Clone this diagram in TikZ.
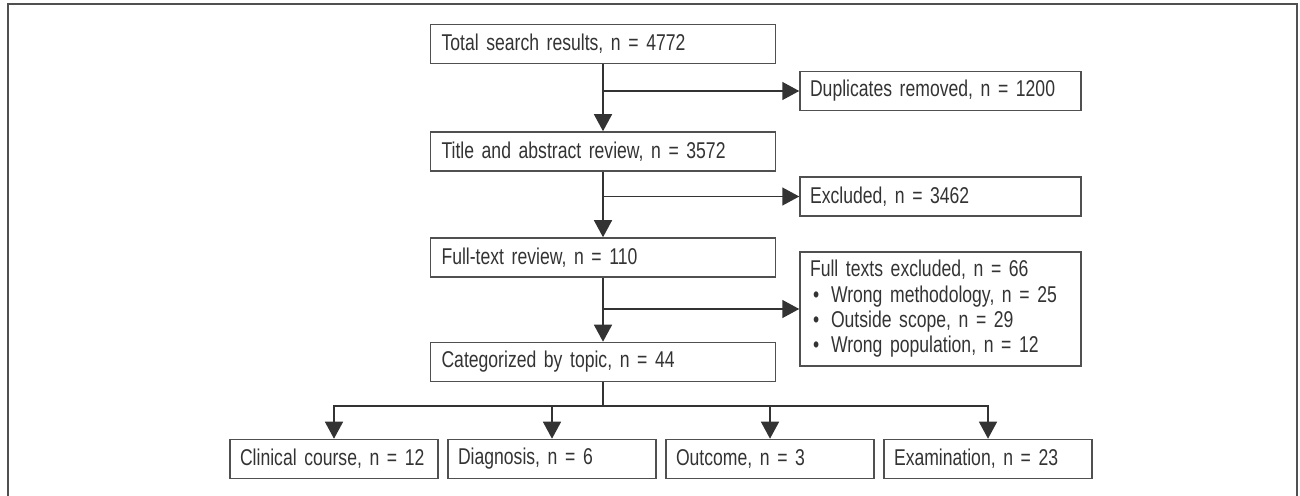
\documentclass[tikz,border=0pt]{standalone}
\usepackage{fontspec}
\setmainfont{Liberation Sans}[FakeStretch=0.77]
\usetikzlibrary{arrows.meta,positioning}
\definecolor{ink}{HTML}{333333}
\definecolor{edge}{HTML}{505050}
\newcommand{\itm}{\makebox[0.42cm][l]{\hspace{0.06cm}\textbullet}}
\tikzset{
  box/.style={draw=edge, line width=0.9pt, text=ink, font=\fontsize{13}{14.4}\selectfont, inner xsep=0.22cm, inner ysep=0pt, minimum height=0.78cm, text width=6.46cm, align=left},
  side/.style={box, inner xsep=0.2cm, text width=5.22cm},
  topic/.style={box, inner xsep=0.2cm, text width=3.76cm},
  line/.style={draw=ink, line width=0.85pt},
  link/.style={line, -{Triangle[length=0.34cm, width=0.36cm]}},
  frame/.style={draw=edge, line width=1.1pt}
}

\begin{document}
\begin{tikzpicture}[x=0.02cm, y=-0.02cm]
  \useasboundingbox (0,0) rectangle (1300,496);
  \draw[frame] (8,497) |- (1297,4) -- (1297,497);

  % main column
  \node[box] (total) at (603,44) {Total search results, n = 4772};
  \node[box] (title) at (603,151.5) {Title and abstract review, n = 3572};
  \node[box] (full) at (603,257.5) {Full-text review, n = 110};
  \node[box] (cat) at (603,362) {Categorized by topic, n = 44};

  % exclusions
  \node[side] (dup) at (940.5,91) {Duplicates removed, n = 1200};
  \node[side] (excl) at (940.5,196.5) {Excluded, n = 3462};
  \node[side, minimum height=2.28cm] (ftx) at (940.5,309) {Full texts excluded, n = 66\\
    \itm Wrong methodology, n = 25\\
    \itm Outside scope, n = 29\\
    \itm Wrong population, n = 12};

  % topics
  \node[topic] (clin) at (334,459) {\mbox{Clinical course, n = 12}};
  \node[topic] (diag) at (552,459) {Diagnosis, n = 6};
  \node[topic] (outc) at (770,459) {Outcome, n = 3};
  \node[topic] (exam) at (988,459) {Examination, n = 23};

  \draw[link] (total) -- (title);
  \draw[link] (title) -- (full);
  \draw[link] (full) -- (cat);

  \coordinate (j1) at (total.south |- dup.west);
  \coordinate (j2) at (title.south |- excl.west);
  \coordinate (j3) at (full.south |- ftx.west);
  \draw[link] (j1) -- (dup);
  \draw[link] (j2) -- (excl);
  \draw[link] (j3) -- (ftx);

  \coordinate (fork) at (cat.south |- 0,406);
  \draw[line] (cat) -- (fork);
  \draw[link] (fork) -| (clin);
  \draw[link] (fork) -| (diag);
  \draw[link] (fork) -| (outc);
  \draw[link] (fork) -| (exam);
\end{tikzpicture}
\end{document}
